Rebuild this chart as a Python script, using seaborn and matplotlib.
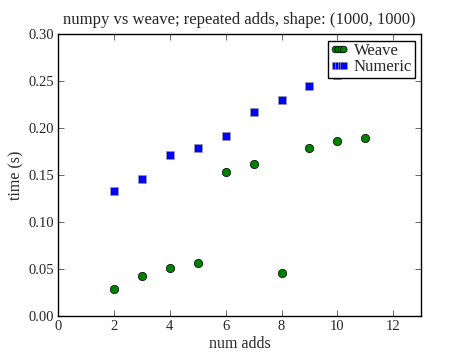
import pandas as pd
import matplotlib.pyplot as plt
import seaborn as sns

# values
weave_adds = [2, 3, 4, 5, 6, 7, 8, 9, 10, 11]
weave_time = [0.029, 0.043, 0.051, 0.057, 0.153, 0.162, 0.046, 0.179, 0.186, 0.190]
numeric_adds = [2, 3, 4, 5, 6, 7, 8, 9, 10]
numeric_time = [0.133, 0.146, 0.171, 0.179, 0.192, 0.217, 0.230, 0.245, 0.256]

df_weave = pd.DataFrame({"adds": weave_adds, "time": weave_time})
df_numeric = pd.DataFrame({"adds": numeric_adds, "time": numeric_time})

sns.set_style("ticks")
plt.rcParams['font.family'] = ['Liberation Serif', 'DejaVu Serif']
plt.rcParams['xtick.direction'] = 'in'
plt.rcParams['ytick.direction'] = 'in'
plt.rcParams['xtick.top'] = True
plt.rcParams['ytick.right'] = True

fig = plt.figure(figsize=(4.68, 3.52), dpi=100)
ax = fig.add_axes([0.124, 0.102, 0.776, 0.801])

sns.scatterplot(data=df_weave, x="adds", y="time", marker="o", color="green",
                s=36, edgecolor="black", linewidth=0.5, label="Weave", ax=ax)
sns.scatterplot(data=df_numeric, x="adds", y="time", marker="s", color="blue",
                s=36, edgecolor="0.6", linewidth=0.5, label="Numeric", ax=ax)

ax.set_xlim(0, 13)
ax.set_ylim(0, 0.30)
ax.set_xticks([0, 2, 4, 6, 8, 10, 12])
ax.set_yticks([0.0, 0.05, 0.10, 0.15, 0.20, 0.25, 0.30])
ax.set_yticklabels(["0.00", "0.05", "0.10", "0.15", "0.20", "0.25", "0.30"])
ax.tick_params(labelsize=10.5, length=4, width=0.6, color="0.3", pad=3)
for sp in ax.spines.values():
    sp.set_linewidth(1.0)
    sp.set_color("black")

ax.set_xlabel("num adds", fontsize=11.5, labelpad=2)
ax.set_ylabel("time (s)", fontsize=11.5, labelpad=3)
ax.set_title("numpy vs weave; repeated adds, shape: (1000, 1000)", fontsize=12, pad=7)

leg = ax.legend(loc="upper right", scatterpoints=4, fontsize=12, fancybox=False,
                frameon=True, framealpha=1, edgecolor="black", handlelength=1.1,
                handletextpad=0.3, borderpad=0.15, labelspacing=0.0, borderaxespad=0.4,
                markerscale=0.8, scatteryoffsets=[0.5])
leg.get_frame().set_linewidth(1.0)

fig.savefig("out.png", dpi=100, facecolor="white")
